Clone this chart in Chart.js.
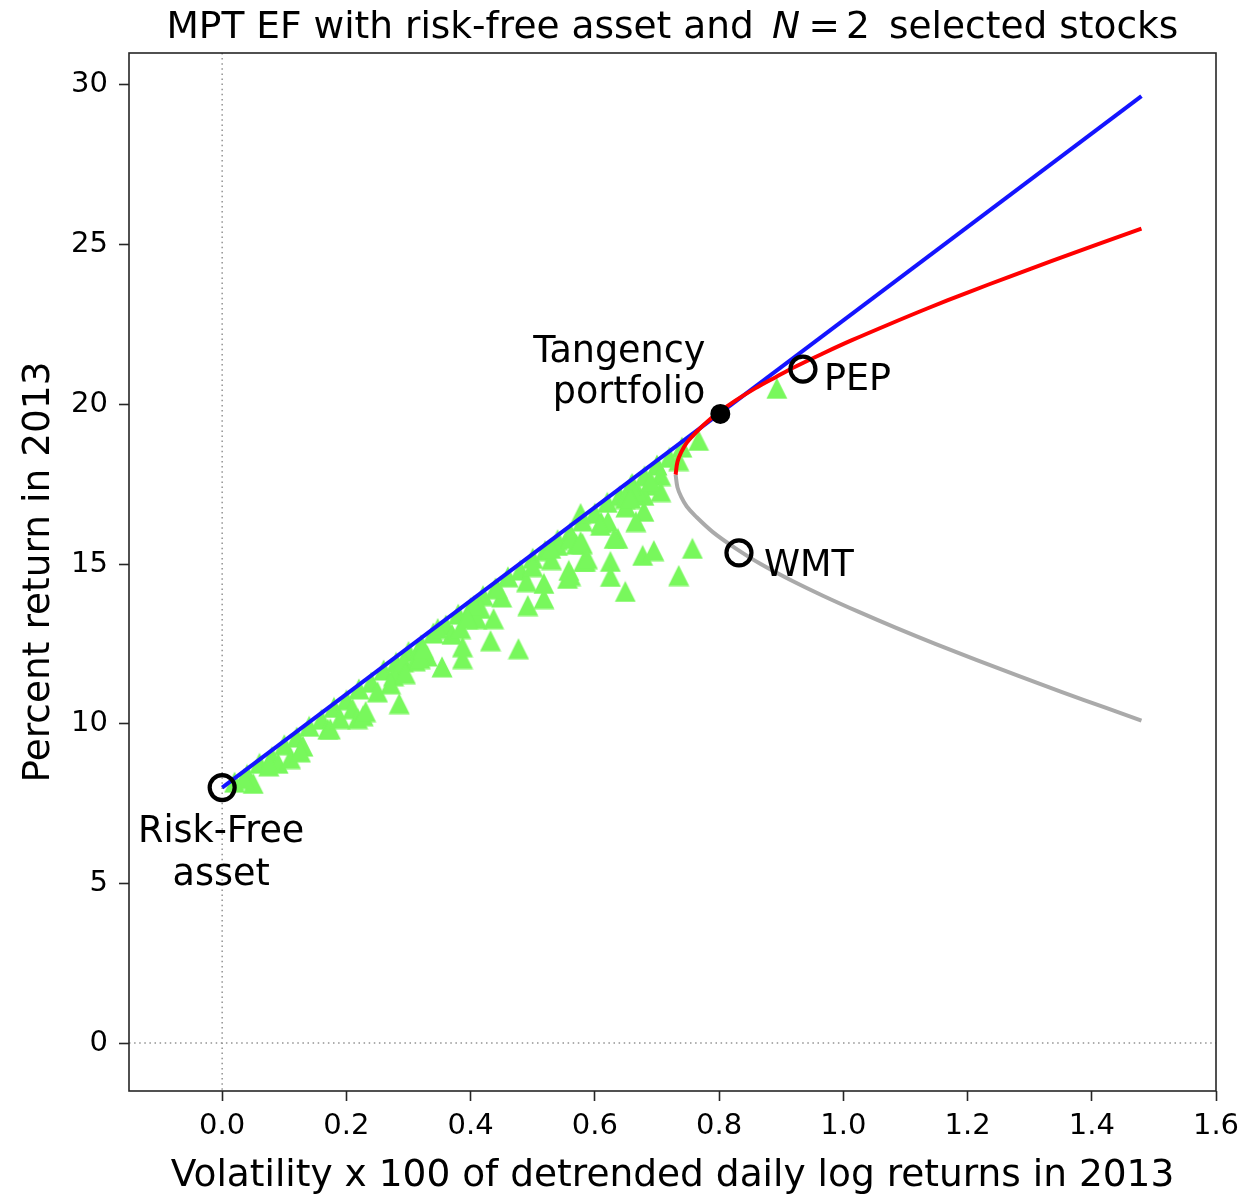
<!DOCTYPE html>
<html><head><meta charset="utf-8">
<script src="https://cdn.jsdelivr.net/npm/chart.js@4.4.1/dist/chart.umd.min.js"></script>
<style>html,body{margin:0;padding:0;background:#fff}#wrap{width:1259px;height:1197px;position:relative}</style>
</head><body><div id="wrap"><canvas id="c"></canvas></div>
<script>
// ---- data ----
const xTicks = [0.0, 0.2, 0.4, 0.6, 0.8, 1.0, 1.2, 1.4, 1.6];
const yTicks = [0, 5, 10, 15, 20, 25, 30];

const randVol = [0.02,0.04,0.06,0.08,0.10,0.12,0.14,0.16,0.18,0.20,0.22,0.24,0.26,0.28,0.30,0.32,0.34,0.36,0.38,0.40,0.42,0.44,0.46,0.48,0.50,0.52,0.54,0.56,0.58,0.60,0.62,0.64,0.66,0.68,0.70,0.72,0.74,
0.05,0.09,0.11,0.13,0.17,0.21,0.25,0.29,0.33,0.37,0.41,0.45,0.49,0.53,0.57,0.61,0.65,0.69,
0.035,0.075,0.126,0.174,0.190,0.218,0.227,0.285,0.276,0.292,0.231,0.311,0.271,0.354,0.387,0.387,0.432,0.477,0.437,0.416,0.492,0.518,0.518,0.556,0.585,0.580,0.540,0.500,0.443,0.405,0.319,0.295,0.384,0.395,0.347,0.324,0.767,0.735,0.706,0.706,0.679,0.669,0.658,0.690,0.649,0.679,0.666,0.621,0.637,0.609,0.577,0.561,0.582,0.625,0.625,0.677,0.695,0.757,0.735,0.649,0.561,0.631,0.577,0.588,0.558,0.658,0.529,0.893];
const randRet = [8.17,8.41,8.76,8.97,9.34,9.58,9.92,10.14,10.51,10.75,11.09,11.30,11.68,11.92,12.26,12.47,12.84,13.09,13.43,13.64,14.01,14.25,14.60,14.81,15.18,15.42,15.76,15.98,16.35,16.59,16.93,17.14,17.52,17.76,18.10,18.34,18.66,
8.13,8.76,8.91,9.30,9.83,10.47,11.00,11.63,12.12,12.80,13.29,13.97,14.45,15.14,15.62,16.31,16.79,17.47,
8.28,8.68,9.12,9.84,10.16,10.16,10.25,10.63,11.50,11.94,10.38,11.97,11.25,11.78,12.04,12.41,12.60,12.35,13.29,13.61,13.70,13.92,14.39,14.55,15.08,15.64,15.58,14.92,14.23,13.70,12.04,11.57,12.98,13.29,12.98,12.35,18.87,18.24,17.77,17.27,17.15,17.27,17.46,17.59,17.05,16.65,16.33,16.33,15.80,16.21,16.58,15.80,15.08,15.08,14.61,15.27,15.42,15.49,14.64,14.14,14.64,15.80,15.70,15.17,14.80,17.05,15.49,20.50];

const cmlVol = [0, 1.48];
const cmlRet = [8, 29.65];

const efUpperVol = [0.730,0.733,0.739,0.748,0.757,0.775,0.796,0.825,0.858,0.891,0.925,0.968,1.013,1.073,1.135,1.200,1.268,1.337,1.408,1.480];
const efUpperRet = [17.8,18.2,18.5,18.8,19.0,19.35,19.7,20.1,20.5,20.85,21.2,21.6,22.0,22.5,23.0,23.5,24.0,24.5,25.0,25.5];

const efLowerVol = [0.730,0.733,0.739,0.748,0.762,0.790,0.826,0.867,0.915,0.968,1.025,1.085,1.148,1.214,1.282,1.351,1.422,1.480];
const efLowerRet = [17.8,17.4,17.1,16.8,16.5,16.0,15.5,15.0,14.5,14.0,13.5,13.0,12.5,12.0,11.5,11.0,10.5,10.1];

const assetNames = ['Risk-Free\nasset', 'PEP', 'WMT'];
const assetVol = [0, 0.935, 0.832];
const assetRet = [8, 21.1, 15.35];

const tangName = 'Tangency\nportfolio';
const tangVol = [0.802];
const tangRet = [19.70];

const titleParts = ['MPT EF with risk-free asset and', 'N', '=', '2', 'selected stocks'];
const xLabel = 'Volatility x 100 of detrended daily log returns in 2013';
const yLabel = 'Percent return in 2013';

// ---- helpers ----
const FAM = '"DejaVu Sans", sans-serif';
const pts = (xs, ys) => xs.map((x, i) => ({x: x, y: ys[i]}));

// matplotlib-like '^' marker (width == height)
const tri = document.createElement('canvas');
tri.width = 22; tri.height = 22;
(function () {
  const c = tri.getContext('2d');
  c.fillStyle = '#78f85c';
  c.beginPath(); c.moveTo(11, 0.5); c.lineTo(21.5, 21.5); c.lineTo(0.5, 21.5); c.closePath(); c.fill();
})();

const refLines = {
  id: 'refLines',
  beforeDatasetsDraw(chart) {
    const {ctx, chartArea: a, scales: {x, y}} = chart;
    ctx.save();
    ctx.beginPath(); ctx.rect(a.left, a.top, a.width, a.height); ctx.clip();
    ctx.strokeStyle = '#929292'; ctx.lineWidth = 1.5; ctx.setLineDash([1.5, 3.6]);
    const x0 = x.getPixelForValue(0), y0 = y.getPixelForValue(0);
    ctx.beginPath(); ctx.moveTo(x0, a.top); ctx.lineTo(x0, a.bottom); ctx.stroke();
    ctx.beginPath(); ctx.moveTo(a.left, y0); ctx.lineTo(a.right, y0); ctx.stroke();
    ctx.restore();
  }
};

const frameAndText = {
  id: 'frameAndText',
  afterDatasetsDraw(chart) {
    const {ctx, chartArea: a, scales: {x, y}} = chart;
    ctx.save();
    ctx.strokeStyle = '#262626'; ctx.lineWidth = 1.6; ctx.setLineDash([]);
    ctx.strokeRect(a.left, a.top, a.width, a.height);
    ctx.fillStyle = '#000';
    ctx.font = '36.5px ' + FAM;
    ctx.textBaseline = 'alphabetic';
    const lines = s => s.split('\n');
    // Risk-Free
    let px = x.getPixelForValue(assetVol[0]), py = y.getPixelForValue(assetRet[0]);
    ctx.textAlign = 'center';
    lines(assetNames[0]).forEach((t, i) => ctx.fillText(t, px - 1, py + 54 + i * 43));
    // PEP
    px = x.getPixelForValue(assetVol[1]); py = y.getPixelForValue(assetRet[1]);
    ctx.textAlign = 'left';
    ctx.fillText(assetNames[1], px + 21, py + 21);
    // WMT
    px = x.getPixelForValue(assetVol[2]); py = y.getPixelForValue(assetRet[2]);
    ctx.fillText(assetNames[2], px + 25, py + 23);
    // Tangency
    px = x.getPixelForValue(tangVol[0]); py = y.getPixelForValue(tangRet[0]);
    ctx.textAlign = 'right';
    lines(tangName).forEach((t, i) => ctx.fillText(t, px - 15, py - 52 + i * 41));
    // Title
    const cx = (a.left + a.right) / 2, by = 37.5;
    ctx.textAlign = 'left';
    ctx.font = '37.5px ' + FAM;
    ctx.fillText(titleParts[0], cx - 506, by);
    ctx.font = 'italic 37.5px ' + FAM;
    ctx.fillText(titleParts[1], cx + 99.5, by);
    ctx.font = '37.5px ' + FAM;
    ctx.fillText(titleParts[2], cx + 136, by);
    ctx.fillText(titleParts[3], cx + 173.5, by);
    ctx.fillText(titleParts[4], cx + 216.5, by);
    ctx.restore();
  }
};

Chart.defaults.font.family = FAM;
Chart.defaults.color = '#000';

new Chart(document.getElementById('c'), {
  type: 'scatter',
  data: {
    datasets: [
      { label: 'portfolios', data: pts(randVol, randRet), order: 10,
        pointStyle: tri, pointRadius: 11, pointHoverRadius: 11 },
      { label: 'CML', data: pts(cmlVol, cmlRet), order: 8, showLine: true,
        borderColor: '#1414ff', borderWidth: 4, pointRadius: 0, fill: false },
      { label: 'lower', data: pts(efLowerVol, efLowerRet), order: 7, showLine: true,
        borderColor: '#aaaaaa', borderWidth: 4, pointRadius: 0, tension: 0.35, fill: false },
      { label: 'upper', data: pts(efUpperVol, efUpperRet), order: 6, showLine: true,
        borderColor: '#ff0000', borderWidth: 4, pointRadius: 0, tension: 0.35, fill: false },
      { label: 'tangency', data: pts(tangVol, tangRet), order: 2,
        pointStyle: 'circle', pointRadius: 9, backgroundColor: '#000', borderColor: '#000', borderWidth: 2 },
      { label: 'assets', data: pts(assetVol, assetRet), order: 1,
        pointStyle: 'circle', pointRadius: 12.5, backgroundColor: 'rgba(0,0,0,0)', borderColor: '#000', borderWidth: 4.2 }
    ]
  },
  options: {
    responsive: true, maintainAspectRatio: false, animation: false,
    events: [],
    layout: { padding: { left: 0, right: 43, top: 53, bottom: 0 } },
    plugins: { legend: { display: false }, tooltip: { enabled: false }, title: { display: false } },
    scales: {
      x: {
        type: 'linear', min: -0.15, max: 1.6,
        afterBuildTicks: s => { s.ticks = xTicks.map(v => ({value: v})); },
        afterFit: s => { s.height = 106; },
        grid: { display: true, drawOnChartArea: false, drawTicks: true, tickLength: 10, tickColor: '#262626', tickWidth: 1.6 },
        border: { display: false },
        ticks: { autoSkip: false, maxRotation: 0, padding: 8, color: '#000',
                 font: { size: 29, lineHeight: 1.2 }, callback: v => Number(v).toFixed(1) },
        title: { display: true, text: xLabel, color: '#000', font: { size: 37.5, lineHeight: 1 }, padding: { top: 0, bottom: 2 } }
      },
      y: {
        type: 'linear', min: -1.5, max: 31,
        afterBuildTicks: s => { s.ticks = yTicks.map(v => ({value: v})); },
        afterFit: s => { s.width = 129; },
        grid: { display: true, drawOnChartArea: false, drawTicks: true, tickLength: 10, tickColor: '#262626', tickWidth: 1.6 },
        border: { display: false },
        ticks: { autoSkip: false, padding: 11, color: '#000',
                 font: { size: 29, lineHeight: 1.2 }, callback: v => String(v) },
        title: { display: true, text: yLabel, color: '#000', font: { size: 37.5, lineHeight: 1 }, padding: { top: 21, bottom: 0 } }
      }
    }
  },
  plugins: [refLines, frameAndText]
});
</script></body></html>
